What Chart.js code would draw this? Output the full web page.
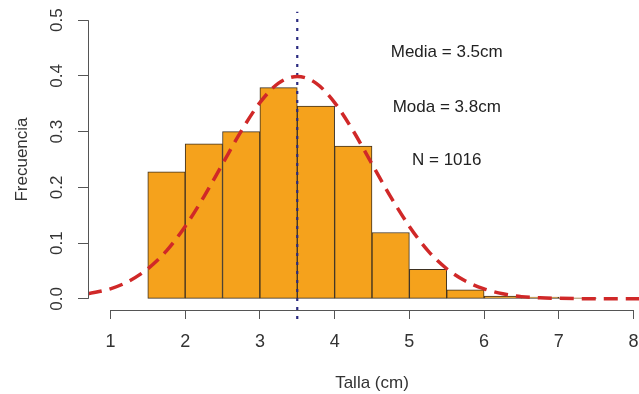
<!DOCTYPE html>
<html>
<head>
<meta charset="utf-8">
<script src="https://cdn.jsdelivr.net/npm/chart.js@4.4.1/dist/chart.umd.min.js"></script>
<style>
	html, body { margin: 0; padding: 0; background: #ffffff; overflow: hidden; }
	#histChart { display: block; }
</style>
</head>
<body>
<!-- the plot region runs a bit past the right edge of the window, as in the cropped original -->
<canvas id="histChart" width="656" height="394"></canvas>
<script>
// histogram bins (centres, width 0.5 cm) and relative frequencies
const binCenters = [1.75, 2.25, 2.75, 3.25, 3.75, 4.25, 4.75, 5.25, 5.75, 6.25, 6.75, 7.25];
const frequencies = [0.228, 0.278, 0.300, 0.379, 0.346, 0.274, 0.119, 0.053, 0.016, 0.005, 0.003, 0.002];

// red dashed density curve
const curveX = [0.7, 1.0, 1.25, 1.5, 1.75, 2.0, 2.25, 2.5, 2.75, 3.0, 3.25, 3.5, 3.75, 4.0, 4.25, 4.5, 4.75, 5.0, 5.25, 5.5, 5.75, 6.0, 6.25, 6.5, 6.75, 7.0, 7.5, 8.0, 8.3];
const curveY = [0.009, 0.018, 0.032, 0.054, 0.086, 0.130, 0.183, 0.242, 0.301, 0.352, 0.387, 0.399, 0.387, 0.352, 0.301, 0.242, 0.183, 0.130, 0.086, 0.054, 0.032, 0.018, 0.009, 0.004, 0.002, 0.001, 0.000, 0.000, 0.000];

const meanValue = 3.5;
const xTicks = [1, 2, 3, 4, 5, 6, 7, 8];
const yTicks = [0, 0.1, 0.2, 0.3, 0.4, 0.5];

const notes = ["Media = 3.5cm", "Moda = 3.8cm", "N = 1016"];
const noteX = 5.5;
const noteY = [0.443, 0.344, 0.249];

const axisColour = "#555555";
const textColour = "#333333";
const fontFamily = "'Liberation Sans', Arial, Helvetica, sans-serif";

// R-like axis lines (only from first to last tick) and the text notes
const rStyle = {
	id: "rStyle",
	afterDraw(chart) {
		const { ctx, chartArea } = chart;
		const x = chart.scales.x;
		const y = chart.scales.y;
		ctx.save();
		ctx.strokeStyle = axisColour;
		ctx.lineWidth = 1;
		ctx.beginPath();
		ctx.moveTo(x.getPixelForValue(xTicks[0]), chartArea.bottom + 0.5);
		ctx.lineTo(x.getPixelForValue(xTicks[xTicks.length - 1]), chartArea.bottom + 0.5);
		ctx.moveTo(chartArea.left + 0.5, y.getPixelForValue(yTicks[0]));
		ctx.lineTo(chartArea.left + 0.5, y.getPixelForValue(yTicks[yTicks.length - 1]));
		ctx.stroke();

		ctx.fillStyle = "#222222";
		ctx.font = "17px " + fontFamily;
		ctx.textAlign = "center";
		ctx.textBaseline = "middle";
		notes.forEach((t, i) => {
			ctx.fillText(t, x.getPixelForValue(noteX), y.getPixelForValue(noteY[i]));
		});
		ctx.restore();
	},
};

const ctx = document.getElementById("histChart");
const config = {
	type: "bar",
	data: {
		datasets: [
			{
				type: "line",
				label: "densidad",
				data: curveX.map((v, i) => ({ x: v, y: curveY[i] })),
				borderColor: "#d02828",
				borderWidth: 3.5,
				borderDash: [14, 8],
				pointRadius: 0,
				cubicInterpolationMode: "monotone",
				fill: false,
				order: 1,
			},
			{
				type: "line",
				label: "media",
				data: [
					{ x: meanValue, y: -0.036 },
					{ x: meanValue, y: 0.515 },
				],
				borderColor: "#2a2a80",
				borderWidth: 2.2,
				borderDash: [3, 6],
				pointRadius: 0,
				clip: false,
				order: 2,
			},
			{
				label: "frecuencia",
				data: binCenters.map((v, i) => ({ x: v, y: frequencies[i] })),
				backgroundColor: "#f5a21c",
				borderColor: "#3d3020",
				borderWidth: 1,
				borderSkipped: false,
				barPercentage: 1,
				categoryPercentage: 1,
				order: 3,
			},
		],
	},
	options: {
		responsive: false,
		animation: false,
		layout: { padding: { top: 9, right: 0, left: 0, bottom: 0 } },
		plugins: {
			legend: { display: false },
			tooltip: { enabled: false },
		},
		scales: {
			x: {
				type: "linear",
				offset: false,
				min: 0.7,
				max: 8.3,
				afterBuildTicks: (scale) => {
					scale.ticks = xTicks.map((v) => ({ value: v }));
				},
				afterFit: (scale) => {
					scale.height = 84;
					scale.paddingLeft = 0;
					scale.paddingRight = 0;
				},
				grid: { offset: false, drawOnChartArea: false, drawTicks: true, tickLength: 9, color: axisColour },
				border: { display: false },
				ticks: {
					color: textColour,
					font: { family: fontFamily, size: 18 },
					padding: 12,
					maxRotation: 0,
					autoSkip: false,
				},
				title: {
					display: true,
					text: "Talla (cm)",
					color: textColour,
					font: { family: fontFamily, size: 17 },
					padding: { top: 0, bottom: 0 },
				},
			},
			y: {
				type: "linear",
				min: -0.02,
				max: 0.52,
				afterBuildTicks: (scale) => {
					scale.ticks = yTicks.map((v) => ({ value: v }));
				},
				afterFit: (scale) => {
					scale.width = 88;
					scale.paddingTop = 0;
					scale.paddingBottom = 0;
				},
				grid: { drawOnChartArea: false, drawTicks: true, tickLength: 10, color: axisColour },
				border: { display: false },
				ticks: {
					color: textColour,
					font: { family: fontFamily, size: 17 },
					padding: 8.7,
					minRotation: 90,
					maxRotation: 90,
					crossAlign: "center",
					callback: (v) => Number(v).toFixed(1),
				},
				title: {
					display: true,
					text: "Frecuencia",
					color: textColour,
					font: { family: fontFamily, size: 17 },
					padding: { top: 12, bottom: 0 },
				},
			},
		},
	},
	plugins: [rStyle],
};
const chart = new Chart(ctx, config);
</script>
</body>
</html>
